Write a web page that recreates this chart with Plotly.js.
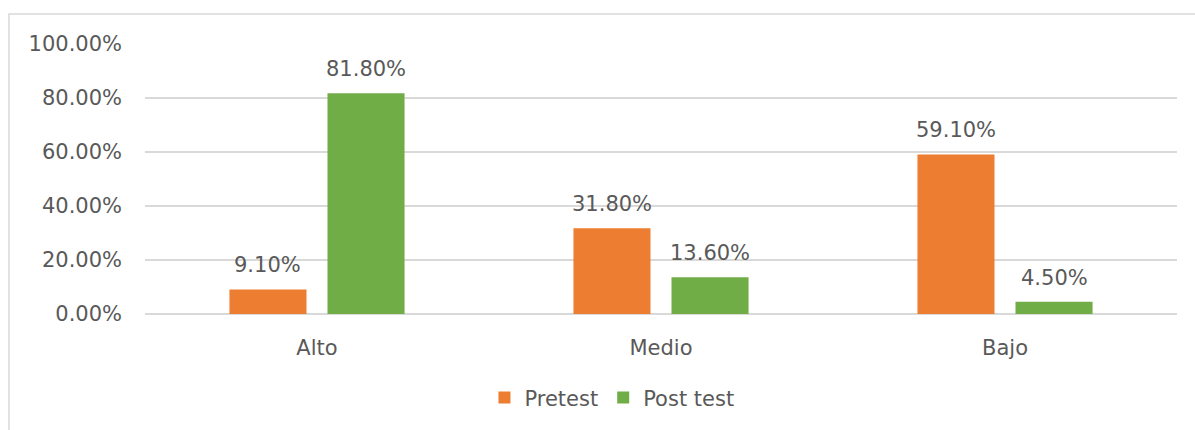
<!DOCTYPE html>
<html>
<head>
<meta charset="utf-8">
<script src="https://cdn.plot.ly/plotly-3.0.1.min.js"></script>
<style>html,body{margin:0;padding:0;background:#fff;}#chart{width:1195px;height:430px;}</style>
</head>
<body>
<div id="chart"></div>
<script>
const categories = ["Alto", "Medio", "Bajo"];
const pretest = [0.091, 0.318, 0.591];
const posttest = [0.818, 0.136, 0.045];
const seriesNames = ["Pretest", "Post test"];
const yTicks = [0, 0.2, 0.4, 0.6, 0.8, 1.0];

const font = {family: "DejaVu Sans, Verdana, sans-serif", size: 21, color: "#595959"};
const bargap = 0.43, bargroupgap = 0.214;
const slot = (1 - bargap) / 2;

const traces = [
  {type: "bar", name: seriesNames[0], x: categories, y: pretest,
   marker: {color: "#ED7D31"}, hoverinfo: "none"},
  {type: "bar", name: seriesNames[1], x: categories, y: posttest,
   marker: {color: "#70AD47"}, hoverinfo: "none"}
];

const annotations = [];
[pretest, posttest].forEach((vals, s) => {
  vals.forEach((v, i) => {
    annotations.push({
      xref: "x", yref: "y", x: i + (s === 0 ? -slot / 2 : slot / 2), y: v,
      text: (v * 100).toFixed(2) + "%", showarrow: false,
      yanchor: "middle", yshift: 24, font: font
    });
  });
});

const layout = {
  width: 1195, height: 430,
  margin: {l: 145, r: 18, t: 44, b: 116},
  paper_bgcolor: "#fff", plot_bgcolor: "#fff",
  font: font,
  barmode: "group", bargap: bargap, bargroupgap: bargroupgap,
  showlegend: true,
  legend: {orientation: "h", x: 0.4525, xanchor: "center", y: -0.311, yanchor: "middle",
           font: font, itemwidth: 30, tracegroupgap: 0},
  xaxis: {showgrid: false, showline: false, zeroline: false, ticks: "", tickfont: font,
          ticklabelstandoff: 19},
  yaxis: {range: [0, 1], tickvals: yTicks, tickformat: ".2%", showgrid: true,
          gridcolor: "#d9d9d9", gridwidth: 1.5, zeroline: true, zerolinecolor: "#d9d9d9",
          zerolinewidth: 1.5, showline: false, ticks: "", tickfont: font, ticklabelstandoff: 22},
  annotations: annotations,
  shapes: [{type: "rect", xref: "paper", yref: "paper", x0: -0.1318, x1: 1.2, y0: -0.8, y1: 1.111,
            line: {color: "#d9d9d9", width: 1.5}, layer: "below"}]
};

Plotly.newPlot("chart", traces, layout, {displayModeBar: false, staticPlot: true});
</script>
</body>
</html>
